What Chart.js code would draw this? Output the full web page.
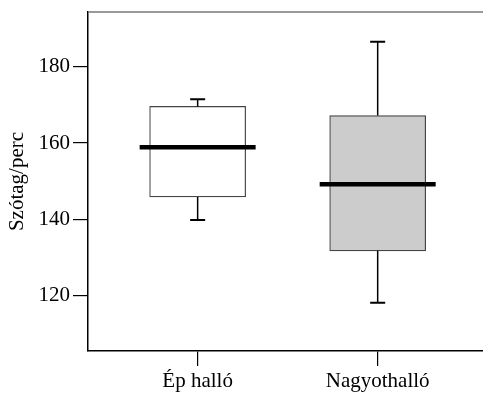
<!DOCTYPE html>
<html>
<head>
<meta charset="utf-8">
<script src="https://cdn.jsdelivr.net/npm/chart.js@4/dist/chart.umd.min.js"></script>
<style>
  html, body { margin: 0; padding: 0; background: #fff; overflow: hidden; }
  #wrap { width: 483px; height: 394px; }
</style>
</head>
<body>
<div id="wrap"><canvas id="box"></canvas></div>
<script>
// box plot values
const categories = ['Ép halló', 'Nagyothalló'];
const whiskerLow = [139.9, 118.2];
const q1 = [145.9, 131.8];
const median = [158.9, 149.2];
const q3 = [169.6, 167.2];
const whiskerHigh = [171.5, 186.5];
const boxColors = ['#ffffff', '#cccccc'];
const yTicks = [120, 140, 160, 180];

const FONT = { family: '"Liberation Serif", "DejaVu Serif", serif', size: 21 };

// whiskers, caps, medians and the top edge of the frame
const boxExtras = {
  id: 'boxExtras',
  afterDatasetsDraw(chart) {
    const { ctx, scales: { x, y }, chartArea } = chart;
    ctx.save();
    categories.forEach((c, i) => {
      const cx = x.getPixelForValue(i + 1);
      ctx.strokeStyle = '#000';
      ctx.lineWidth = 1.5;
      ctx.beginPath();
      ctx.moveTo(cx, y.getPixelForValue(q3[i]));
      ctx.lineTo(cx, y.getPixelForValue(whiskerHigh[i]));
      ctx.moveTo(cx, y.getPixelForValue(q1[i]));
      ctx.lineTo(cx, y.getPixelForValue(whiskerLow[i]));
      ctx.stroke();
      ctx.lineWidth = 2;
      ctx.beginPath();
      [whiskerHigh[i], whiskerLow[i]].forEach(v => {
        const py = y.getPixelForValue(v);
        ctx.moveTo(cx - 7.5, py);
        ctx.lineTo(cx + 7.5, py);
      });
      ctx.stroke();
      // median
      ctx.lineWidth = 4.5;
      ctx.beginPath();
      const my = y.getPixelForValue(median[i]);
      ctx.moveTo(cx - 58, my);
      ctx.lineTo(cx + 58, my);
      ctx.stroke();
    });
    ctx.strokeStyle = '#777';
    ctx.lineWidth = 1.5;
    ctx.beginPath();
    ctx.moveTo(chartArea.left, chartArea.top);
    ctx.lineTo(chartArea.right + 2, chartArea.top);
    ctx.stroke();
    ctx.restore();
  }
};

new Chart(document.getElementById('box'), {
  type: 'bar',
  data: {
    datasets: [{
      data: categories.map((c, i) => ({ x: i + 1, y: [q1[i], q3[i]] })),
      backgroundColor: boxColors,
      borderColor: '#444',
      borderWidth: 1.2,
      borderSkipped: false,
      barThickness: 96
    }]
  },
  options: {
    responsive: true,
    maintainAspectRatio: false,
    animation: false,
    layout: { padding: { top: 12, right: 0, left: 0, bottom: 0 } },
    plugins: { legend: { display: false }, tooltip: { enabled: false } },
    scales: {
      x: {
        type: 'linear',
        offset: false,
        min: 0.391, max: 2.585,
        afterBuildTicks: s => { s.ticks = categories.map((c, i) => ({ value: i + 1 })); },
        afterFit: s => { s.height = 43; s.paddingLeft = 0; s.paddingRight = 0; },
        ticks: {
          color: '#000', font: FONT, padding: 3, maxRotation: 0, autoSkip: false,
          callback: v => categories[v - 1]
        },
        grid: { offset: false, drawOnChartArea: false, tickLength: 15, color: '#000', lineWidth: 1.2 },
        border: { color: '#000', width: 1.5 }
      },
      y: {
        min: 105.6, max: 194.3,
        afterBuildTicks: s => { s.ticks = yTicks.map(v => ({ value: v })); },
        afterFit: s => { s.width = 88; s.paddingTop = 0; s.paddingBottom = 0; },
        ticks: { color: '#000', font: FONT, padding: 3 },
        grid: { drawOnChartArea: false, tickLength: 15, color: '#000', lineWidth: 1.2 },
        border: { color: '#000', width: 1.5 },
        title: { display: true, text: 'Szótag/perc', color: '#000', font: FONT, padding: { top: 5, bottom: 0 } }
      }
    }
  },
  plugins: [boxExtras]
});
</script>
</body>
</html>
